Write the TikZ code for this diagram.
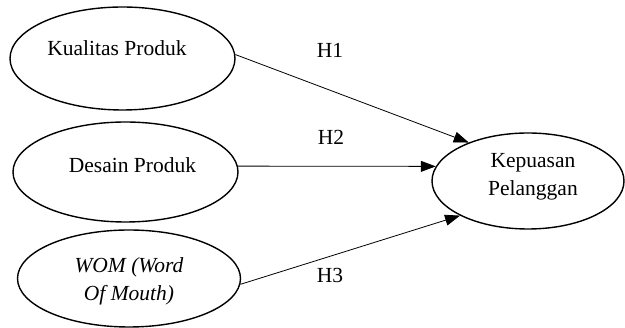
\documentclass[tikz,border=0pt]{standalone}
\usepackage{fontspec}
\setmainfont{Liberation Serif}
\usetikzlibrary{shapes.geometric,arrows.meta}
\begin{document}
\begin{tikzpicture}[x=1pt,y=-1pt,
  oval/.style={draw,ellipse,line width=1.4pt,inner sep=0pt},
  txt/.style={font=\fontsize{21.5}{28}\selectfont,align=center,inner sep=0pt},
  hyp/.style={-{Triangle[length=15pt,width=11pt]},line width=0.8pt}]
\useasboundingbox (0,0) rectangle (625,328);
\node[oval,minimum width=225pt,minimum height=103pt] (kp) at (122.5,58.5) {};
\node[oval,minimum width=225pt,minimum height=100pt] (dp) at (125.5,172) {};
\node[oval,minimum width=223pt,minimum height=97pt] (wom) at (129,278.5) {};
\node[oval,minimum width=192pt,minimum height=96pt] (kep) at (528,181) {};
\node[txt] (tkp) at (117,48) {Kualitas Produk};
\node[txt] (tdp) at (132.5,165) {Desain Produk};
\node[txt] (twom) at (129,281) {\itshape WOM (Word\\\itshape Of Mouth)};
\node[txt] (tkep) at (533,177) {Kepuasan\\Pelanggan};
\node[txt] (h1) at (330,50) {H1};
\node[txt] (h2) at (331,137) {H2};
\node[txt] (h3) at (330,275) {H3};
\draw[hyp] (kp.2) -- (kep.147);
\draw[hyp] (dp.3) -- (kep.171);
\draw[hyp] (wom.357) -- (kep.207);
\end{tikzpicture}
\end{document}
